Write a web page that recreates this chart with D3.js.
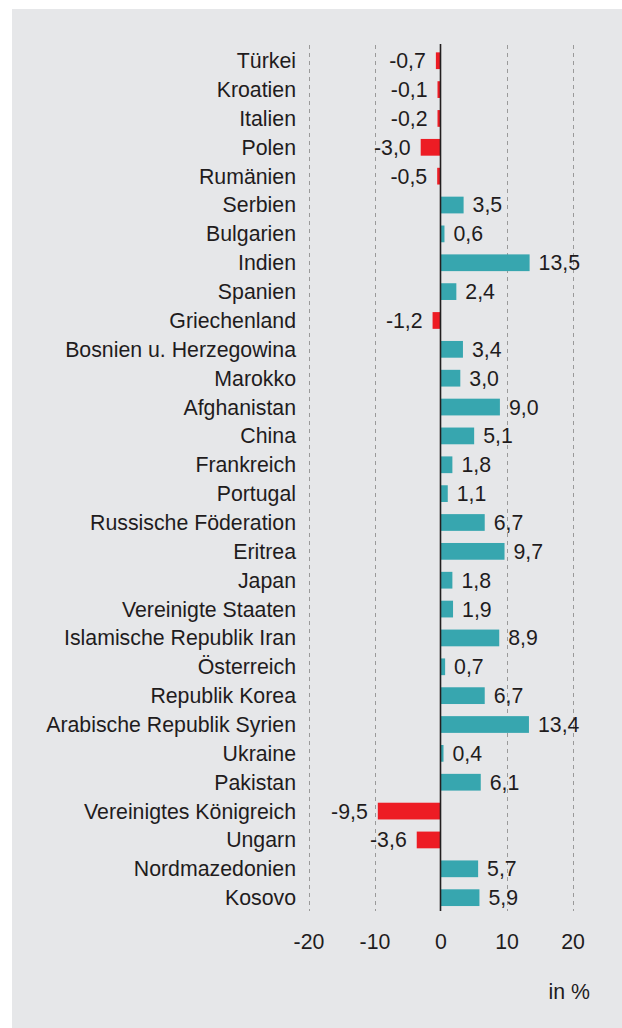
<!DOCTYPE html>
<html><head><meta charset="utf-8">
<script src="https://cdn.jsdelivr.net/npm/d3@7"></script>
<style>
html,body{margin:0;padding:0;background:#fff;}
svg{display:block;}
text{font-family:"Liberation Sans",Arial,Helvetica,sans-serif;}
</style></head>
<body>
<svg id="chart" width="622" height="1028"></svg>
<script>
const categories = ["Türkei","Kroatien","Italien","Polen","Rumänien","Serbien","Bulgarien","Indien","Spanien","Griechenland","Bosnien u. Herzegowina","Marokko","Afghanistan","China","Frankreich","Portugal","Russische Föderation","Eritrea","Japan","Vereinigte Staaten","Islamische Republik Iran","Österreich","Republik Korea","Arabische Republik Syrien","Ukraine","Pakistan","Vereinigtes Königreich","Ungarn","Nordmazedonien","Kosovo"];
const values = [-0.7,-0.1,-0.2,-3.0,-0.5,3.5,0.6,13.5,2.4,-1.2,3.4,3.0,9.0,5.1,1.8,1.1,6.7,9.7,1.8,1.9,8.9,0.7,6.7,13.4,0.4,6.1,-9.5,-3.6,5.7,5.9];
const tickValues = [-20,-10,0,10,20];
const unitLabel = "in %";

const FS = 21.3;
const TXT = "#1f1c1d";
const svg = d3.select("#chart");
svg.append("rect").attr("x",12).attr("y",9).attr("width",610).attr("height",1019).attr("fill","#e6e7e9");

const x = d3.scaleLinear().domain([-20,20]).range([308.5,572.5]);
const y = d3.scaleBand().domain(categories).range([46.3,912.1]).paddingInner(0.42).paddingOuter(0.21);
const fmt = v => d3.format(".1f")(v).replace(".",",").replace("−","-");
const data = categories.map((c,i)=>({c, v: values[i]}));

// gridlines
svg.append("g").selectAll("line").data(tickValues.filter(t=>t!==0)).join("line")
  .attr("x1",d=>Math.round(x(d))+0.5).attr("x2",d=>Math.round(x(d))+0.5)
  .attr("y1",45).attr("y2",911)
  .attr("stroke","#9a9a9a").attr("stroke-width",1).attr("stroke-dasharray","4,4");

// bars
const minW = 3;
svg.append("g").selectAll("rect").data(data).join("rect")
  .attr("x",d=> d.v>=0 ? x(0) : Math.min(x(d.v), x(0)-minW))
  .attr("width",d=> Math.max(minW, Math.abs(x(d.v)-x(0))))
  .attr("y",d=>y(d.c)).attr("height",y.bandwidth())
  .attr("fill",d=> d.v>=0 ? "#37a6af" : "#ed1c24");

// zero line
svg.append("line").attr("x1",x(0)).attr("x2",x(0)).attr("y1",44).attr("y2",911)
  .attr("stroke","#231f20").attr("stroke-width",1.6);

// category labels
svg.append("g").selectAll("text").data(data).join("text")
  .attr("x",296).attr("y",d=>y(d.c)+y.bandwidth()/2).attr("dy","0.35em")
  .attr("text-anchor","end").attr("font-size",FS).attr("fill",TXT)
  .text(d=>d.c);

// value labels
svg.append("g").selectAll("text").data(data).join("text")
  .attr("x",d=> d.v>=0 ? Math.max(x(d.v), x(0)+minW)+9 : Math.min(x(d.v), x(0)-minW)-10)
  .attr("y",d=>y(d.c)+y.bandwidth()/2).attr("dy","0.35em")
  .attr("text-anchor",d=> d.v>=0 ? "start" : "end")
  .attr("font-size",FS).attr("fill",TXT)
  .text(d=>fmt(d.v));

// x axis tick labels
const axis = d3.axisBottom(x).tickValues(tickValues).tickSize(0).tickPadding(0).tickFormat(d=>String(d));
const ax = svg.append("g").attr("transform","translate(0,930)").call(axis);
ax.select(".domain").remove();
ax.selectAll("text").attr("font-size",FS).attr("fill",TXT).attr("dy","0.9em")
  .style("font-family",'"Liberation Sans",Arial,Helvetica,sans-serif');

svg.append("text").attr("x",590).attr("y",999).attr("text-anchor","end")
  .attr("font-size",FS).attr("fill",TXT).text(unitLabel);
</script>
</body></html>
